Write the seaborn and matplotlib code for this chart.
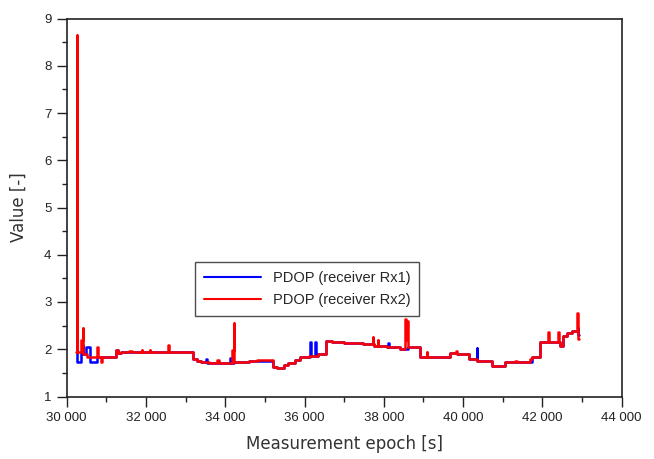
import numpy as np
import pandas as pd
import matplotlib
matplotlib.use("Agg")
import matplotlib.pyplot as plt
import seaborn as sns
from matplotlib.ticker import FuncFormatter, MultipleLocator

# Receiver Rx2 PDOP (step breakpoints: epoch [s], value)
t_rx2 = [30240, 30260, 30270, 30360, 30400, 30415, 30500, 30760, 30790, 30860,
         30890, 31250, 31300, 31380, 31570, 31640, 31900, 31910, 32100, 32110,
         32560, 32575, 33180, 33280, 33400, 33600, 33800, 33830, 34170, 34210,
         34225, 34600, 34800, 35200, 35300, 35470, 35580, 35760, 35890, 36100,
         36350, 36530, 36700, 37000, 37480, 37715, 37725, 37740, 37850, 37860,
         38080, 38410, 38540, 38550, 38560, 38600, 38920, 39080, 39095, 39680,
         39820, 39850, 40140, 40350, 40730, 41050, 41140, 41310, 41350, 41690,
         41730, 41940, 42140, 42155, 42400, 42415, 42450, 42530, 42610, 42740,
         42880, 42890, 42900, 42930]
v_rx2 = [1.95, 8.65, 1.95, 2.20, 2.45, 1.90, 1.84, 2.05, 1.84, 1.74,
         1.84, 1.98, 1.93, 1.95, 1.97, 1.95, 1.99, 1.95, 1.98, 1.95,
         2.10, 1.95, 1.79, 1.76, 1.72, 1.70, 1.77, 1.70, 1.98, 2.55,
         1.73, 1.76, 1.77, 1.63, 1.61, 1.66, 1.71, 1.78, 1.83, 1.85,
         1.90, 2.17, 2.15, 2.13, 2.11, 2.26, 2.11, 2.07, 2.20, 2.07,
         2.04, 2.00, 2.65, 2.20, 2.60, 2.04, 1.84, 1.95, 1.84, 1.93,
         1.97, 1.91, 1.79, 1.76, 1.65, 1.72, 1.74, 1.76, 1.72, 1.79,
         1.84, 2.16, 2.37, 2.16, 2.37, 2.16, 2.06, 2.27, 2.34, 2.39,
         2.77, 2.39, 2.21, 2.21]

# Receiver Rx1 PDOP
t_rx1 = [30250, 30270, 30360, 30400, 30420, 30490, 30580, 30770, 31250, 31300,
         31380, 33180, 33280, 33400, 33520, 33545, 34110, 34135, 34225, 34600,
         35200, 35300, 35470, 35580, 35760, 35890, 36130, 36150, 36270, 36290,
         36350, 36530, 36700, 37000, 37480, 37740, 38080, 38110, 38130, 38410,
         38600, 38920, 39680, 39850, 40140, 40340, 40360, 40730, 41050, 41350,
         41730, 41940, 42450, 42530, 42610, 42740, 42890, 42910, 42930]
v_rx1 = [1.95, 1.74, 1.95, 2.10, 1.90, 2.05, 1.72, 1.84, 1.98, 1.93,
         1.95, 1.79, 1.76, 1.72, 1.80, 1.70, 1.82, 1.70, 1.73, 1.76,
         1.63, 1.61, 1.66, 1.71, 1.78, 1.83, 2.15, 1.85, 2.15, 1.85,
         1.90, 2.17, 2.15, 2.13, 2.11, 2.07, 2.04, 2.14, 2.04, 2.00,
         2.04, 1.84, 1.93, 1.91, 1.79, 2.03, 1.76, 1.65, 1.72, 1.72,
         1.84, 2.16, 2.06, 2.27, 2.34, 2.39, 2.45, 2.30, 2.30]

labels = ["PDOP (receiver Rx1)", "PDOP (receiver Rx2)"]
x_ticks = [30000, 32000, 34000, 36000, 38000, 40000, 42000, 44000]
y_ticks = [1, 2, 3, 4, 5, 6, 7, 8, 9]

sns.set_style("white")
plt.rcParams['font.family'] = ['Liberation Sans', 'DejaVu Sans']

fig = plt.figure(figsize=(6.54, 4.59), dpi=100)
ax = fig.add_axes([66.7 / 654, 1 - 396.5 / 459, (621.7 - 66.7) / 654, (396.5 - 18.5) / 459])

df1 = pd.DataFrame({"t": t_rx1, "v": v_rx1})
df2 = pd.DataFrame({"t": t_rx2, "v": v_rx2})
sns.lineplot(data=df1, x="t", y="v", ax=ax, color="#0000ff", lw=1.8,
             drawstyle="steps-post", estimator=None, sort=False, label=labels[0])
sns.lineplot(data=df2, x="t", y="v", ax=ax, color="#ff0000", lw=1.8,
             drawstyle="steps-post", estimator=None, sort=False, label=labels[1])

ax.set_xlim(x_ticks[0], x_ticks[-1])
ax.set_ylim(y_ticks[0], y_ticks[-1])
ax.set_xticks(x_ticks)
ax.set_yticks(y_ticks)
ax.xaxis.set_minor_locator(MultipleLocator(1000))
ax.yaxis.set_minor_locator(MultipleLocator(0.5))
ax.xaxis.set_major_formatter(FuncFormatter(lambda v, p: f"{int(v):,}".replace(",", " ")))
ax.tick_params(axis="both", which="both", bottom=True, left=True, top=False, right=False)
ax.tick_params(axis="both", which="major", direction="out", length=7, width=1,
               labelsize=9.5, colors="#222222", pad=4)
ax.tick_params(axis="both", which="minor", direction="out", length=3.5, width=1,
               colors="#222222")
for s in ax.spines.values():
    s.set_visible(True)
    s.set_color("#222222")
    s.set_linewidth(1.2)

ax.set_xlabel("Measurement epoch [s]", fontsize=12, color="#333333",
              family="DejaVu Sans", labelpad=8)
ax.set_ylabel("Value [-]", fontsize=12, color="#333333",
              family="DejaVu Sans", labelpad=12)

leg = ax.legend(loc="upper left", bbox_to_anchor=((195 - 66.7) / 555, (396.5 - 262) / 378),
                frameon=True, fancybox=False, fontsize=10.5, handlelength=3.9,
                borderaxespad=0, borderpad=0.6, labelspacing=0.55, handletextpad=0.85)
leg.get_frame().set_edgecolor("#222222")
leg.get_frame().set_linewidth(1.0)
for ln in leg.get_lines():
    ln.set_linewidth(1.5)

fig.savefig("out.png", dpi=100)
